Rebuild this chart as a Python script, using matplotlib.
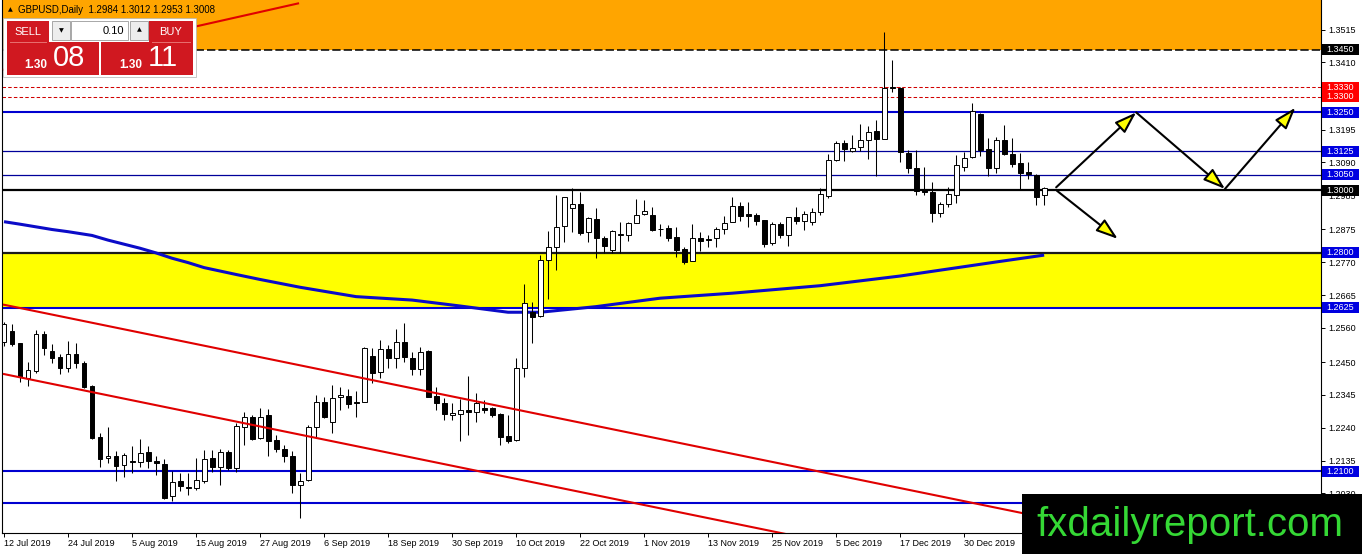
"""GBPUSD daily chart with support/resistance levels, rebuilt with matplotlib."""

import matplotlib

matplotlib.use("Agg")
import matplotlib.pyplot as plt
from matplotlib.patches import Rectangle


W, H, DPI = 1362, 554, 100

# daily candles, 12 Jul 2019 .. 14 Jan 2020
OPENS = [
    1.2514, 1.2550, 1.2510, 1.2398, 1.2421, 1.2540, 1.2486, 1.2466, 1.2431, 1.2476,
    1.2447, 1.2374, 1.2212, 1.2142, 1.2150, 1.2121, 1.2134, 1.2131, 1.2163, 1.2134,
    1.2124, 1.2020, 1.2069, 1.2051, 1.2046, 1.2071, 1.2142, 1.2115, 1.2163, 1.2112,
    1.2244, 1.2276, 1.2208, 1.2281, 1.2201, 1.2171, 1.2151, 1.2056, 1.2072, 1.2242,
    1.2322, 1.2259, 1.2337, 1.2343, 1.2324, 1.2322, 1.2470, 1.2419, 1.2491, 1.2462,
    1.2514, 1.2465, 1.2427, 1.2486, 1.2342, 1.2320, 1.2280, 1.2283, 1.2297, 1.2290,
    1.2304, 1.2302, 1.2283, 1.2214, 1.2201, 1.2433, 1.2612, 1.2599, 1.2777, 1.2818,
    1.2886, 1.2943, 1.2956, 1.2866, 1.2908, 1.2847, 1.2809, 1.2856, 1.2857, 1.2895,
    1.2924, 1.2921, 1.2877, 1.2879, 1.2850, 1.2812, 1.2774, 1.2847, 1.2845, 1.2847,
    1.2876, 1.2898, 1.2950, 1.2926, 1.2921, 1.2905, 1.2831, 1.2893, 1.2857, 1.2914,
    1.2903, 1.2900, 1.2932, 1.2983, 1.3098, 1.3151, 1.3127, 1.3138, 1.3162, 1.3190,
    1.3164, 1.3332, 1.3327, 1.3121, 1.3071, 1.3002, 1.2996, 1.2927, 1.2957, 1.2985,
    1.3076, 1.3106, 1.3245, 1.3132, 1.3073, 1.3162, 1.3117, 1.3089, 1.3059, 1.3050,
    1.2984,
]
HIGHS = [
    1.2579, 1.2572, 1.2513, 1.2451, 1.2553, 1.2551, 1.2508, 1.2476, 1.2517, 1.2512,
    1.2454, 1.2377, 1.2222, 1.2244, 1.2167, 1.2160, 1.2182, 1.2204, 1.2182, 1.2150,
    1.2140, 1.2100, 1.2094, 1.2094, 1.2142, 1.2169, 1.2169, 1.2171, 1.2169, 1.2256,
    1.2289, 1.2281, 1.2302, 1.2301, 1.2217, 1.2185, 1.2166, 1.2094, 1.2249, 1.2345,
    1.2339, 1.2377, 1.2371, 1.2363, 1.2359, 1.2498, 1.2496, 1.2521, 1.2505, 1.2555,
    1.2574, 1.2483, 1.2498, 1.2489, 1.2371, 1.2334, 1.2320, 1.2331, 1.2406, 1.2350,
    1.2329, 1.2307, 1.2286, 1.2281, 1.2462, 1.2699, 1.2644, 1.2793, 1.2871, 1.2985,
    1.2980, 1.3007, 1.2996, 1.2916, 1.2943, 1.2854, 1.2873, 1.2898, 1.2900, 1.2972,
    1.2969, 1.2948, 1.2893, 1.2889, 1.2882, 1.2818, 1.2893, 1.2868, 1.2857, 1.2882,
    1.2918, 1.2980, 1.2964, 1.2964, 1.2929, 1.2905, 1.2900, 1.2900, 1.2914, 1.2946,
    1.2934, 1.2943, 1.3007, 1.3117, 1.3159, 1.3162, 1.3178, 1.3213, 1.3206, 1.3226,
    1.3508, 1.3418, 1.3332, 1.3130, 1.3130, 1.3076, 1.3026, 1.2964, 1.3010, 1.3114,
    1.3124, 1.3279, 1.3247, 1.3167, 1.3172, 1.3210, 1.3167, 1.3121, 1.3092, 1.3053,
    1.3012,
]
LOWS = [
    1.2501, 1.2503, 1.2388, 1.2375, 1.2416, 1.2473, 1.2448, 1.2412, 1.2420, 1.2431,
    1.2366, 1.2204, 1.2113, 1.2128, 1.2070, 1.2083, 1.2096, 1.2113, 1.2112, 1.2089,
    1.2013, 1.2007, 1.2036, 1.2025, 1.2041, 1.2062, 1.2099, 1.2057, 1.2105, 1.2097,
    1.2185, 1.2201, 1.2203, 1.2150, 1.2164, 1.2131, 1.2030, 1.1950, 1.2070, 1.2206,
    1.2270, 1.2224, 1.2297, 1.2304, 1.2276, 1.2321, 1.2384, 1.2398, 1.2433, 1.2430,
    1.2451, 1.2408, 1.2408, 1.2339, 1.2297, 1.2265, 1.2265, 1.2198, 1.2217, 1.2259,
    1.2286, 1.2275, 1.2185, 1.2190, 1.2198, 1.2403, 1.2510, 1.2596, 1.2651, 1.2745,
    1.2836, 1.2868, 1.2857, 1.2836, 1.2783, 1.2799, 1.2799, 1.2801, 1.2839, 1.2895,
    1.2921, 1.2870, 1.2855, 1.2839, 1.2788, 1.2763, 1.2774, 1.2807, 1.2818, 1.2820,
    1.2860, 1.2898, 1.2903, 1.2882, 1.2889, 1.2818, 1.2825, 1.2849, 1.2822, 1.2893,
    1.2873, 1.2889, 1.2921, 1.2977, 1.3095, 1.3095, 1.3124, 1.3126, 1.3100, 1.3046,
    1.3164, 1.3316, 1.3092, 1.3055, 1.2985, 1.2985, 1.2900, 1.2916, 1.2948, 1.2961,
    1.3063, 1.3103, 1.3110, 1.3046, 1.3057, 1.3114, 1.3076, 1.3005, 1.3038, 1.2953,
    1.2953,
]
CLOSES = [
    1.2572, 1.2507, 1.2403, 1.2425, 1.2540, 1.2495, 1.2464, 1.2431, 1.2476, 1.2447,
    1.2370, 1.2206, 1.2139, 1.2149, 1.2118, 1.2153, 1.2129, 1.2158, 1.2134, 1.2126,
    1.2016, 1.2066, 1.2052, 1.2046, 1.2073, 1.2139, 1.2115, 1.2162, 1.2112, 1.2246,
    1.2276, 1.2204, 1.2276, 1.2199, 1.2171, 1.2149, 1.2056, 1.2070, 1.2242, 1.2322,
    1.2276, 1.2334, 1.2345, 1.2316, 1.2319, 1.2494, 1.2416, 1.2491, 1.2462, 1.2514,
    1.2467, 1.2427, 1.2483, 1.2339, 1.2318, 1.2283, 1.2286, 1.2297, 1.2290, 1.2318,
    1.2297, 1.2281, 1.2212, 1.2198, 1.2433, 1.2640, 1.2596, 1.2777, 1.2820, 1.2882,
    1.2978, 1.2956, 1.2865, 1.2911, 1.2847, 1.2823, 1.2870, 1.2860, 1.2897, 1.2920,
    1.2933, 1.2873, 1.2875, 1.2849, 1.2809, 1.2772, 1.2847, 1.2839, 1.2840, 1.2876,
    1.2895, 1.2950, 1.2919, 1.2918, 1.2903, 1.2829, 1.2893, 1.2857, 1.2914, 1.2903,
    1.2925, 1.2932, 1.2989, 1.3098, 1.3151, 1.3132, 1.3135, 1.3162, 1.3186, 1.3164,
    1.3327, 1.3327, 1.3124, 1.3071, 1.2999, 1.2996, 1.2927, 1.2957, 1.2989, 1.3082,
    1.3103, 1.3255, 1.3130, 1.3073, 1.3162, 1.3116, 1.3085, 1.3057, 1.3054, 1.2980,
    1.3008,
]

DATE_BARS = [0, 8, 16, 24, 32, 40, 48, 56, 64, 72, 80, 88, 96, 104, 112, 120]
DATE_LABELS = [
    "12 Jul 2019", "24 Jul 2019", "5 Aug 2019", "15 Aug 2019", "27 Aug 2019",
    "6 Sep 2019", "18 Sep 2019", "30 Sep 2019", "10 Oct 2019", "22 Oct 2019",
    "1 Nov 2019", "13 Nov 2019", "25 Nov 2019", "5 Dec 2019", "17 Dec 2019",
    "30 Dec 2019",
]

PRICE_TICKS = [
    1.3515, 1.3410, 1.3305, 1.3195, 1.3090, 1.2985, 1.2875, 1.2770,
    1.2665, 1.2560, 1.2450, 1.2345, 1.2240, 1.2135, 1.2030,
]

# moving average (thick blue curve)
MA_BARS = [0, 2, 6, 8, 11, 13, 15, 17, 19, 21, 23, 25, 29, 32, 37, 44, 51, 57,
           63, 67, 74, 82, 91, 102, 112, 124, 130]
MA_VALUES = [
    1.2900, 1.2892, 1.2875, 1.2868, 1.2856, 1.2841, 1.2828, 1.2815, 1.2800,
    1.2783, 1.2769, 1.2753, 1.2731, 1.2715, 1.2690, 1.2660, 1.2649, 1.2630,
    1.2610, 1.2610, 1.2628, 1.2655, 1.2671, 1.2695, 1.2726, 1.2771, 1.2793,
]

# horizontal levels and the colour of their price tag
LEVELS = [1.3450, 1.3330, 1.3300, 1.3250, 1.3125, 1.3050, 1.3000, 1.2800, 1.2625, 1.2100, 1.2000]
TAG_COLORS = ["black", "#FF0000", "#FF0000", "#0000E0", "#0000E0", "#0000E0",
              "black", "#0000E0", "#0000E0", "#0000E0", "#0000E0"]

RESIST_ZONE = (1.3450, 1.3700)
SUPPORT_ZONE = (1.2625, 1.2800)

# trend lines: (bars, prices)
CHANNEL_UPPER = ([0, 165], [1.2634, 1.1769])
CHANNEL_LOWER = ([0, 165], [1.2412, 1.1547])
RISING_LINE = ([0, 36.75], [1.3387, 1.3599])

# forecast arrows
PATH_BARS = [131.5, 141.5, 152.6, 161.4]
PATH_PRICES = [1.3010, 1.3250, 1.3005, 1.3265]
ALT_BARS = [131.6, 139.2]
ALT_PRICES = [1.2999, 1.2845]


LEVEL_STYLE = {
    1.3450: dict(color="black", lw=1.1, ls=(0, (6, 2.2))),
    1.3330: dict(color="#D00000", lw=0.75, ls=(0, (2.5, 1.6))),
    1.3300: dict(color="#D00000", lw=0.75, ls=(0, (2.5, 1.6))),
    1.3250: dict(color="#0000D0", lw=1.5, ls="-"),
    1.3125: dict(color="#00009A", lw=0.9, ls="-"),
    1.3050: dict(color="#00009A", lw=0.9, ls="-"),
    1.3000: dict(color="black", lw=1.6, ls="-"),
    1.2800: dict(color="#1A1A1A", lw=1.6, ls="-"),
    1.2625: dict(color="#0000D0", lw=1.5, ls="-"),
    1.2100: dict(color="#0000D0", lw=1.5, ls="-"),
    1.2000: dict(color="#0000D0", lw=1.5, ls="-"),
}


def draw_candles(ax):
    for i, (o, h, l, c) in enumerate(zip(OPENS, HIGHS, LOWS, CLOSES)):
        ax.vlines(i, l, h, color="black", lw=0.75, zorder=3)
        bull = c >= o
        ax.bar(i, abs(c - o), bottom=min(o, c), width=0.62,
               color="white" if bull else "black", edgecolor="black",
               linewidth=0.7, zorder=3.2)


def draw_panel(ov, red="#D01820"):
    ov.add_patch(Rectangle((3, 18), 193, 59, fc="white", ec="#B0B0B0", lw=0.5, zorder=1))
    for x, w in [(7, 42), (149, 44)]:
        ov.add_patch(Rectangle((x, 21), w, 21, fc=red, ec="none", zorder=2))
    for x in (7, 101):
        ov.add_patch(Rectangle((x, 42), 92, 33, fc=red, ec="none", zorder=2))
    ov.plot([10, 46], [42, 42], color="#E87070", lw=0.7, zorder=3)
    ov.plot([152, 190], [42, 42], color="#E87070", lw=0.7, zorder=3)
    ov.add_patch(Rectangle((52, 21), 18, 19, fc="#EDEDED", ec="#9A9A9A", lw=0.6, zorder=2))
    ov.add_patch(Rectangle((71, 21), 57, 19, fc="white", ec="#9A9A9A", lw=0.6, zorder=2))
    ov.add_patch(Rectangle((130, 21), 18, 19, fc="#EDEDED", ec="#9A9A9A", lw=0.6, zorder=2))
    ov.text(61, 31, "▼", fontsize=4.5, ha="center", va="center", family="DejaVu Sans", zorder=4)
    ov.text(139, 30, "▲", fontsize=4.5, ha="center", va="center", family="DejaVu Sans", zorder=4)
    ov.text(124, 31, "0.10", fontsize=8, ha="right", va="center", zorder=4)
    ov.text(28, 32, "SELL", fontsize=8, color="white", ha="center", va="center", zorder=4)
    ov.text(171, 32, "BUY", fontsize=8, color="white", ha="center", va="center", zorder=4)
    for x_small, x_big, big in [(36, 69.5, "08"), (131, 163, "11")]:
        ov.text(x_small, 65, "1.30", fontsize=8.5, color="white", weight="bold",
                ha="center", va="center", zorder=4)
        ov.text(x_big, 58, big, fontsize=21, color="white", ha="center", va="center", zorder=4)


def main():
    plt.rcParams["font.family"] = ["Liberation Sans", "DejaVu Sans"]
    plt.rcParams["lines.scale_dashes"] = False

    fig = plt.figure(figsize=(W / DPI, H / DPI), dpi=DPI)
    ax = fig.add_axes([2 / W, 21 / H, 1319 / W, (H - 21) / H])
    ax.set_xlim(-0.25, 164.6)
    ax.set_ylim(1.1903, 1.3610)

    ax.axhspan(*RESIST_ZONE, color="#FFA500", lw=0, zorder=0.5)
    ax.axhspan(*SUPPORT_ZONE, color="#FFFF00", lw=0, zorder=0.5)
    for lvl in LEVELS:
        st = LEVEL_STYLE[lvl]
        ax.axhline(lvl, color=st["color"], lw=st["lw"], ls=st["ls"], zorder=1)

    ax.plot(MA_BARS, MA_VALUES, color="#0B0BC8", lw=2.2, zorder=2,
            solid_capstyle="butt", solid_joinstyle="round")
    draw_candles(ax)

    for bars, prices in (CHANNEL_UPPER, CHANNEL_LOWER, RISING_LINE):
        ax.plot(bars, prices, color="#E00000", lw=1.5, zorder=4)

    arrow = dict(arrowstyle="-|>,head_length=0.95,head_width=0.32", fc="#FFFF00",
                 ec="black", lw=1.5, mutation_scale=14, shrinkA=0, shrinkB=0)
    for bars, prices in ((PATH_BARS, PATH_PRICES), (ALT_BARS, ALT_PRICES)):
        for k in range(len(bars) - 1):
            ax.annotate("", xy=(bars[k + 1], prices[k + 1]), xytext=(bars[k], prices[k]),
                        arrowprops=arrow, zorder=5, annotation_clip=False)

    for side in ("left", "right", "bottom"):
        ax.spines[side].set_linewidth(0.8)
    ax.spines["top"].set_visible(False)

    ax.set_xticks(DATE_BARS)
    ax.set_xticklabels(DATE_LABELS, ha="left")
    ax.tick_params(axis="x", length=3, width=0.7, pad=1.5, labelsize=6.5)
    ax.yaxis.tick_right()
    ax.set_yticks(PRICE_TICKS)
    ax.set_yticklabels([f"{p:.4f}" for p in PRICE_TICKS])
    ax.tick_params(axis="y", length=3, width=0.7, pad=2, labelsize=6.5)

    # overlay in pixel coordinates for the trading panel, tags and watermark
    ov = fig.add_axes([0, 0, 1, 1], zorder=10)
    ov.set_xlim(0, W)
    ov.set_ylim(H, 0)
    ov.axis("off")
    ov.patch.set_alpha(0)

    header = (f"GBPUSD,Daily  {OPENS[-1]:.4f} {HIGHS[-1]:.4f} "
              f"{LOWS[-1]:.4f} {CLOSES[-1]:.4f}")
    ov.text(10, 10, "▲", fontsize=4.5, ha="center", va="center", family="DejaVu Sans")
    ov.text(18, 10, header, fontsize=7, ha="left", va="center")
    draw_panel(ov)

    fig.canvas.draw()
    for lvl, col in zip(LEVELS, TAG_COLORS):
        y = H - ax.transData.transform((0, lvl))[1]
        ov.add_patch(Rectangle((1322, y - 5.5), 37, 11, fc=col, ec="none", zorder=5))
        ov.text(1340.5, y, f"{lvl:.4f}", fontsize=6.5, color="white",
                ha="center", va="center", zorder=6)

    ov.add_patch(Rectangle((1022, 494), 340, 60, fc="black", ec="none", zorder=8))
    ov.text(1036, 536, "fxdailyreport.com", fontsize=29, color="#35D835",
            ha="left", va="baseline", zorder=9)

    fig.savefig("out.png", dpi=DPI)
    plt.close(fig)


if __name__ == "__main__":
    main()
